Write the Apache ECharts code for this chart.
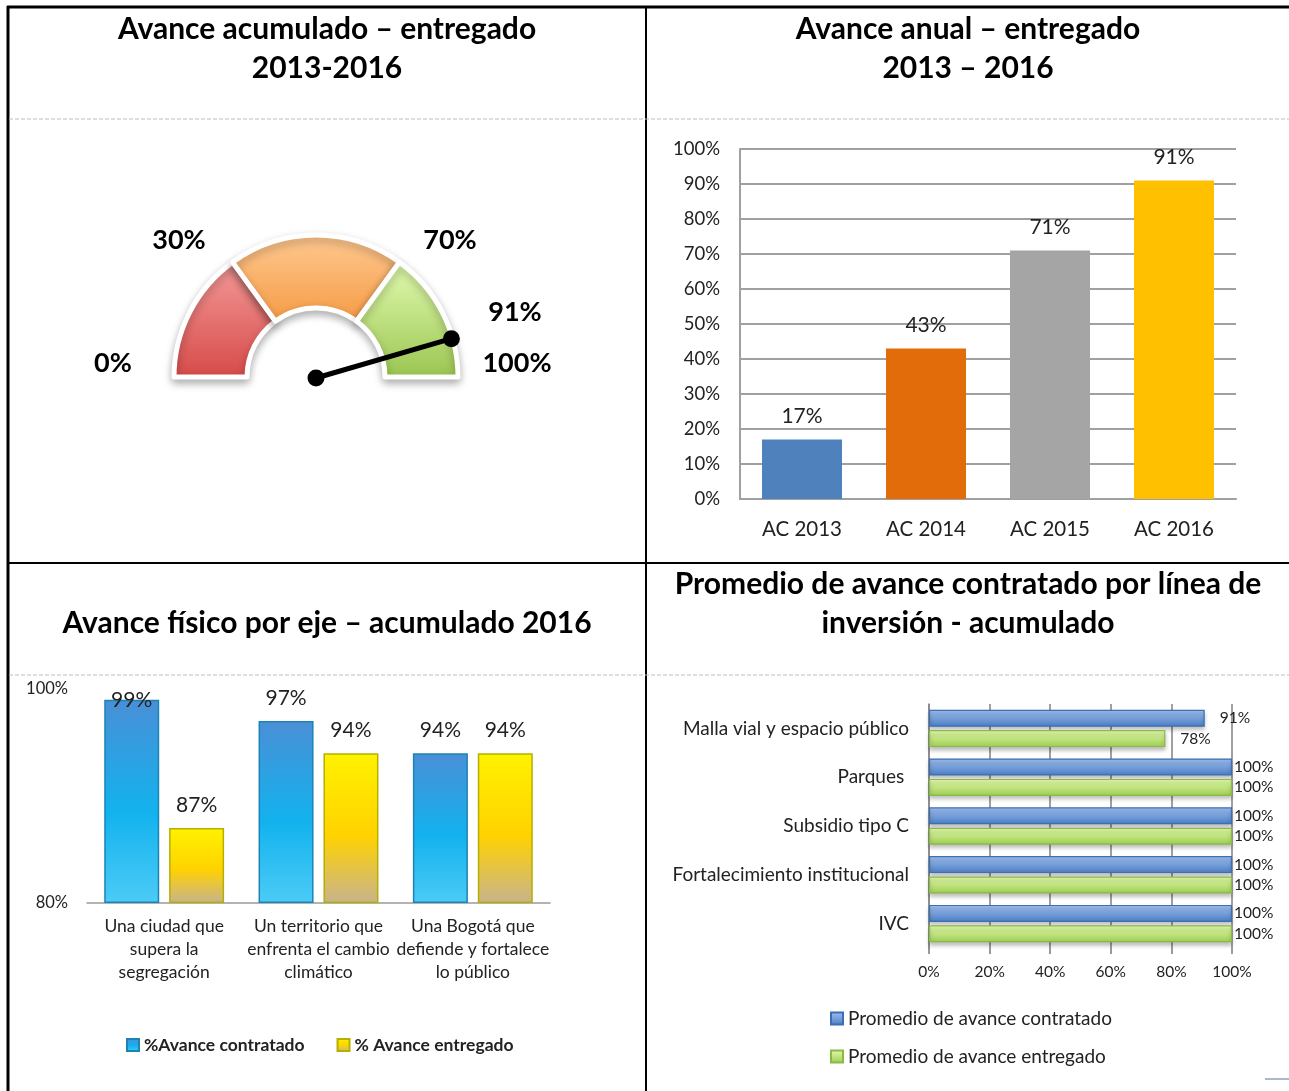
<!DOCTYPE html>
<html>
<head>
<meta charset="utf-8">
<script src="https://cdn.jsdelivr.net/npm/echarts@6/dist/echarts.min.js"></script>
<style>
html,body{margin:0;padding:0;background:#fff;}
#main{width:1289px;height:1091px;}
</style>
</head>
<body>
<div id="main"></div>
<script>
// avance acumulado (velocimetro)
var gaugeTicks = [0, 30, 70, 100];
var gaugeValue = 91;

// avance anual
var yearCats = ['AC 2013', 'AC 2014', 'AC 2015', 'AC 2016'];
var yearValues = [17, 43, 71, 91];

// avance fisico por eje
var ejeCats = ['Una ciudad que\nsupera la\nsegregación', 'Un territorio que\nenfrenta el cambio\nclimático', 'Una Bogotá que\ndefiende y fortalece\nlo público'];
var ejeContratado = [99, 97, 94];
var ejeEntregado = [87, 94, 94];

// promedio por linea de inversion
var lineaCats = ['Malla vial y espacio público', 'Parques ', 'Subsidio tipo C', 'Fortalecimiento institucional', 'IVC'];
var lineaContratado = [91, 100, 100, 100, 100];
var lineaEntregado = [78, 100, 100, 100, 100];

var FONT = 'Lato';
var chart = echarts.init(document.getElementById('main'));
var LG = echarts.graphic.LinearGradient;

function txt(s, x, y, size, bold) {
    return {
        type: 'text', x: x, y: y, silent: true,
        style: {
            text: s, font: (bold ? 'bold ' : '') + size + 'px ' + FONT, fill: '#000',
            align: 'center', verticalAlign: 'middle', textAlign: 'center', textVerticalAlign: 'middle'
        }
    };
}
function ln(x1, y1, x2, y2, w, color, dash) {
    return {
        type: 'line', silent: true,
        shape: {x1: x1, y1: y1, x2: x2, y2: y2},
        style: {stroke: color || '#000', lineWidth: w, lineDash: dash || null}
    };
}

var graphics = [
    ln(7, 7, 1289, 7, 3), ln(8, 6, 8, 1091, 3), ln(646, 6, 646, 1091, 2), ln(8, 563, 1289, 563, 2),
    ln(9, 119, 1289, 119, 1, '#bdbdbd', [4, 2]), ln(9, 675, 1289, 675, 1, '#bdbdbd', [4, 2]),
    ln(1265, 1079, 1289, 1079, 2, '#a9b9cd'),
    txt('Avance acumulado – entregado', 327, 29, 30, true),
    txt('2013-2016', 327, 68, 30, true),
    txt('Avance anual – entregado', 968, 29, 30, true),
    txt('2013 – 2016', 968, 68, 30, true),
    txt('Avance físico por eje – acumulado 2016', 327, 623, 30, true),
    txt('Promedio de avance contratado por línea de', 968, 584, 30, true),
    txt('inversión - acumulado', 968, 623, 30, true)
];
// etiquetas del velocimetro
var gaugeLabelPos = [[113, 363], [179, 240], [450, 240], [517, 363]];
gaugeTicks.forEach(function (t, i) {
    graphics.push(txt(t + '%', gaugeLabelPos[i][0], gaugeLabelPos[i][1], 27, true));
});
graphics.push(txt(gaugeValue + '%', 515, 312, 27, true));

var segColors = [
    new LG(0, 0, 0, 1, [{offset: 0, color: '#f59b9b'}, {offset: 1, color: '#d54a47'}]),
    new LG(0, 0, 0, 1, [{offset: 0, color: '#ffca92'}, {offset: 1, color: '#f59a44'}]),
    new LG(0, 0, 0, 1, [{offset: 0, color: '#e3fcb2'}, {offset: 1, color: '#99c44f'}])
];
var segData = [];
for (var i = 1; i < gaugeTicks.length; i++) {
    segData.push({
        value: gaugeTicks[i] - gaugeTicks[i - 1],
        itemStyle: {color: segColors[i - 1], borderColor: '#fff', borderWidth: 5,
            shadowBlur: 8, shadowOffsetY: 4, shadowColor: 'rgba(0,0,0,0.28)'}
    });
}
segData.push({value: gaugeTicks[gaugeTicks.length - 1], itemStyle: {color: 'rgba(0,0,0,0)'}});

var yearColors = ['#4f81bd', '#e36c0a', '#a5a5a5', '#ffc000'];

var blueV = new LG(0, 0, 0, 1, [{offset: 0, color: '#4a8fd6'}, {offset: 0.55, color: '#12b2ee'}, {offset: 1, color: '#4ccbf6'}]);
var yellowV = new LG(0, 0, 0, 1, [{offset: 0, color: '#fff200'}, {offset: 0.55, color: '#ffd200'}, {offset: 1, color: '#c8b38e'}]);
var blueH = new LG(0, 0, 0, 1, [{offset: 0, color: '#a3c1f2'}, {offset: 1, color: '#4a7dc2'}]);
var greenH = new LG(0, 0, 0, 1, [{offset: 0, color: '#e4fcae'}, {offset: 1, color: '#9dcc52'}]);

option = {
    animation: false,
    textStyle: {fontFamily: FONT},
    graphic: graphics,
    polar: {center: [316, 378], radius: 141},
    angleAxis: {type: 'value', min: 0, max: 200, startAngle: 180, clockwise: true, show: false},
    radiusAxis: {type: 'value', min: 0, max: 1, show: false},
    grid: [
        {left: 740, top: 149, width: 496, height: 350},
        {left: 87, top: 689, width: 463, height: 214},
        {left: 929, top: 704, width: 303, height: 244}
    ],
    xAxis: [
        {gridIndex: 0, type: 'category', data: yearCats,
            axisLine: {lineStyle: {color: '#a0a0a0', width: 2}}, axisTick: {show: false},
            axisLabel: {fontSize: 20.5, color: '#222', margin: 20}},
        {gridIndex: 1, type: 'category', data: ejeCats,
            axisLine: {lineStyle: {color: '#9a9a9a', width: 1.5}}, axisTick: {show: false},
            axisLabel: {fontSize: 17.5, lineHeight: 23, color: '#222', margin: 12, interval: 0}},
        {gridIndex: 2, type: 'value', min: 0, max: 100, interval: 20,
            axisLine: {show: false}, axisTick: {show: true, length: 6, lineStyle: {color: '#7a7a7a', width: 1.5}},
            splitLine: {lineStyle: {color: '#808080', width: 1.5}},
            axisLabel: {formatter: '{value}%', fontSize: 15.5, color: '#222', margin: 16}}
    ],
    yAxis: [
        {gridIndex: 0, type: 'value', min: 0, max: 100, interval: 10,
            axisLine: {show: true, lineStyle: {color: '#a0a0a0', width: 2}},
            splitLine: {lineStyle: {color: '#a0a0a0', width: 2}},
            axisLabel: {formatter: '{value}%', fontSize: 18.5, color: '#222', margin: 20}},
        {gridIndex: 1, type: 'value', min: 80, max: 100, interval: 20, startValue: 80,
            axisLine: {show: false}, splitLine: {show: false},
            axisLabel: {formatter: '{value}%', fontSize: 16.5, color: '#222', margin: 19}},
        {gridIndex: 2, type: 'category', data: lineaCats, inverse: true,
            axisLine: {lineStyle: {color: '#888', width: 1.5}}, axisTick: {show: false},
            axisLabel: {fontSize: 19, color: '#222', margin: 20}}
    ],
    legend: [
        {data: ['%Avance contratado', '% Avance entregado'], left: 121, top: 1031,
            icon: 'rect', itemWidth: 12, itemHeight: 12, itemGap: 32,
            textStyle: {fontSize: 17.5, fontWeight: 'bold', color: '#222'}},
        {data: ['Promedio de avance contratado', 'Promedio de avance entregado'], orient: 'vertical',
            left: 825, top: 1004, icon: 'rect', itemWidth: 12, itemHeight: 12, itemGap: 19,
            textStyle: {fontSize: 19, color: '#222'}}
    ],
    series: [
        {type: 'pie', center: [316, 377], radius: [69, 142], startAngle: 180, clockwise: true,
            silent: true, label: {show: false}, labelLine: {show: false}, emphasis: {disabled: true},
            data: segData, z: 2},
        {type: 'line', coordinateSystem: 'polar', silent: true, z: 5,
            data: [[0, gaugeValue], [1, gaugeValue]],
            symbol: 'circle', symbolSize: 17, showSymbol: true,
            lineStyle: {color: '#000', width: 5}, itemStyle: {color: '#000'}},
        {type: 'bar', xAxisIndex: 0, yAxisIndex: 0, barWidth: 80,
            data: yearValues.map(function (v, i) {
                return {value: v, itemStyle: {color: yearColors[i]}};
            }),
            label: {show: true, position: 'top', distance: 13, fontSize: 21, color: '#222', formatter: '{c}%'}},
        {name: '%Avance contratado', type: 'bar', xAxisIndex: 1, yAxisIndex: 1, barWidth: 55, barGap: '18%',
            data: ejeContratado.map(function (v, i) {
                return i === 0 ? {value: v, label: {position: 'insideTop', distance: -10}} : v;
            }),
            itemStyle: {color: blueV, borderColor: '#1c84b4', borderWidth: 1.5},
            label: {show: true, position: 'top', distance: 12, fontSize: 21, color: '#222', formatter: '{c}%'}},
        {name: '% Avance entregado', type: 'bar', xAxisIndex: 1, yAxisIndex: 1, barWidth: 55,
            data: ejeEntregado,
            itemStyle: {color: yellowV, borderColor: '#b5b000', borderWidth: 1.5},
            label: {show: true, position: 'top', distance: 12, fontSize: 21, color: '#222', formatter: '{c}%'}},
        {name: 'Promedio de avance contratado', type: 'bar', xAxisIndex: 2, yAxisIndex: 2, barWidth: 17, barGap: '20%',
            data: lineaContratado.map(function (v) {
                return v < 100 ? {value: v, label: {distance: 15}} : v;
            }),
            itemStyle: {color: blueH, borderColor: '#3a6fb5', borderWidth: 1.2,
                shadowBlur: 4, shadowOffsetY: 3, shadowColor: 'rgba(0,0,0,0.25)'},
            label: {show: true, position: 'right', distance: 2, fontSize: 15.5, color: '#222', formatter: '{c}%'}},
        {name: 'Promedio de avance entregado', type: 'bar', xAxisIndex: 2, yAxisIndex: 2, barWidth: 17,
            data: lineaEntregado.map(function (v) {
                return v < 100 ? {value: v, label: {distance: 15}} : v;
            }),
            itemStyle: {color: greenH, borderColor: '#8cb845', borderWidth: 1.2,
                shadowBlur: 4, shadowOffsetY: 3, shadowColor: 'rgba(0,0,0,0.25)'},
            label: {show: true, position: 'right', distance: 2, fontSize: 15.5, color: '#222', formatter: '{c}%'}}
    ]
};

chart.setOption(option);
</script>
</body>
</html>
